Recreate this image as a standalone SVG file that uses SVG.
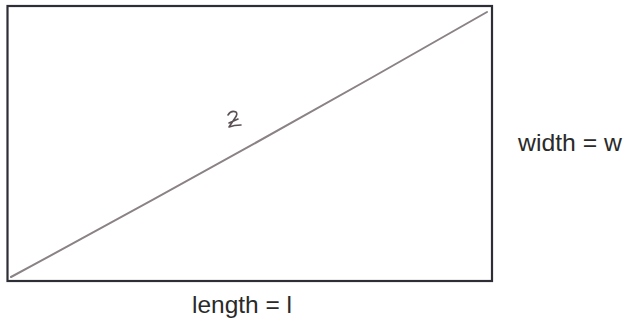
<svg xmlns="http://www.w3.org/2000/svg" width="626" height="323" viewBox="0 0 626 323">
<style>
.lbl{font-family:"Liberation Sans",Arial,sans-serif;font-size:24px;fill:#2a2a2a}
.box{fill:#fff;stroke:#2e2e36;stroke-width:2.2}
.diag{fill:none;stroke:#8a8284;stroke-width:2;stroke-linecap:round}
.hand{fill:none;stroke:#5a5055;stroke-width:1.6;stroke-linecap:round;stroke-linejoin:round}
</style>
<rect width="626" height="323" fill="#fff"/>
<g id="rect-node">
<rect class="box" x="7.5" y="6" width="484.5" height="275"/>
</g>
<g id="connectors">
<path class="diag" d="M11,277 Q250,148 487,12"/>
</g>
<g id="z-label">
<path class="hand" d="M228,115 Q231,110 236,112 Q238,114 235,118 L229,127 Q234,125 241,125 M229,123 L238,119"/>
</g>
<g id="width-label">
<text class="lbl" x="518" y="151" textLength="104" lengthAdjust="spacingAndGlyphs">width = w</text>
</g>
<g id="length-label">
<text class="lbl" x="192" y="313" textLength="100" lengthAdjust="spacingAndGlyphs">length = l</text>
</g>
</svg>
